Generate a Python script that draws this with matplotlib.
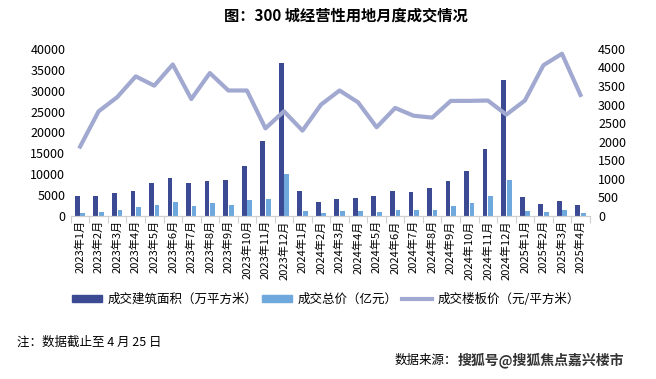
import numpy as np
import matplotlib
matplotlib.use("Agg")
import matplotlib.pyplot as plt
from matplotlib.lines import Line2D
from matplotlib.patches import Patch

plt.rcParams['font.family'] = ['Noto Sans CJK SC', 'DejaVu Sans']

months = ["2023年1月", "2023年2月", "2023年3月", "2023年4月", "2023年5月", "2023年6月",
          "2023年7月", "2023年8月", "2023年9月", "2023年10月", "2023年11月", "2023年12月",
          "2024年1月", "2024年2月", "2024年3月", "2024年4月", "2024年5月", "2024年6月",
          "2024年7月", "2024年8月", "2024年9月", "2024年10月", "2024年11月", "2024年12月",
          "2025年1月", "2025年2月", "2025年3月", "2025年4月"]
# 成交建筑面积（万平方米）
area = [4900, 4700, 5600, 6100, 8000, 9000, 8000, 8400, 8640, 12000, 18000, 36700,
        6000, 3400, 4100, 4300, 4800, 6000, 5800, 6700, 8400, 10800, 16100, 32600,
        4600, 2900, 3600, 2700]
# 成交总价（亿元）
total = [720, 960, 1440, 2160, 2640, 3360, 2400, 3120, 2640, 3840, 4080, 10100,
         1200, 720, 1200, 1200, 960, 1440, 1440, 1440, 2400, 3120, 4800, 8640,
         1200, 960, 1440, 720]
# 成交楼板价（元/平方米）
price = [1870, 2820, 3200, 3760, 3510, 4080, 3150, 3850, 3380, 3380, 2360, 2820,
         2300, 3000, 3380, 3060, 2390, 2910, 2700, 2650, 3100, 3100, 3110, 2730,
         3110, 4060, 4370, 3260]

c_area = "#3B4A92"
c_total = "#6FA8DC"
c_price = "#A1A9D0"

fig = plt.figure(figsize=(6.56, 3.79), dpi=100)
ax = fig.add_axes([0.108, 0.430, 0.791, 0.441])
x = np.arange(len(months))
w = 0.26
ax.bar(x - 0.15, area, w, color=c_area, zorder=2)
ax.bar(x + 0.15, total, w, color=c_total, zorder=2)
ax.set_ylim(0, 40000)
ax.set_yticks(range(0, 40001, 5000))
ax.set_xlim(-0.5, len(months) - 0.5)

ax2 = ax.twinx()
ax2.plot(x, price, color=c_price, lw=3, zorder=3, solid_joinstyle="round")
ax2.set_ylim(0, 4500)
ax2.set_yticks(range(0, 4501, 500))

for a in (ax, ax2):
    for s in ("top", "left", "right"):
        a.spines[s].set_visible(False)
    a.spines["bottom"].set_color("#D0D0D0")
ax.tick_params(axis="y", length=0, labelsize=9, pad=4)
ax2.tick_params(axis="y", length=0, labelsize=9, pad=6)

# group separators as major ticks, month labels as minor ticks
ax.set_xticks(np.arange(-0.5, len(months), 1))
ax.set_xticklabels([])
ax.tick_params(axis="x", which="major", length=5, color="#D0D0D0")
ax.set_xticks(x, minor=True)
ax.set_xticklabels(months, minor=True, rotation=90, fontsize=8)
ax.tick_params(axis="x", which="minor", length=0, pad=3)

fig.text(0.527, 0.960, "图：300 城经营性用地月度成交情况", ha="center", va="center",
         fontsize=11, fontweight="bold")

handles = [Patch(color=c_area), Patch(color=c_total),
           Line2D([0], [0], color=c_price, lw=3)]
labels = ["成交建筑面积（万平方米）", "成交总价（亿元）", "成交楼板价（元/平方米）"]
fig.legend(handles, labels, loc="center", bbox_to_anchor=(0.497, 0.211), ncol=3,
           frameon=False, fontsize=9, handlelength=2.4, handleheight=0.5,
           columnspacing=0.4, handletextpad=0.4)

fig.text(0.026, 0.098, "注：数据截止至 4 月 25 日", ha="left", va="center", fontsize=9)
fig.text(0.601, 0.050, "数据来源：", ha="left", va="center", fontsize=9)
fig.text(0.698, 0.050, "搜狐号@搜狐焦点嘉兴楼市", ha="left", va="center",
         fontsize=10, fontweight="bold", color="#333333")

fig.savefig("out.png", dpi=100)
